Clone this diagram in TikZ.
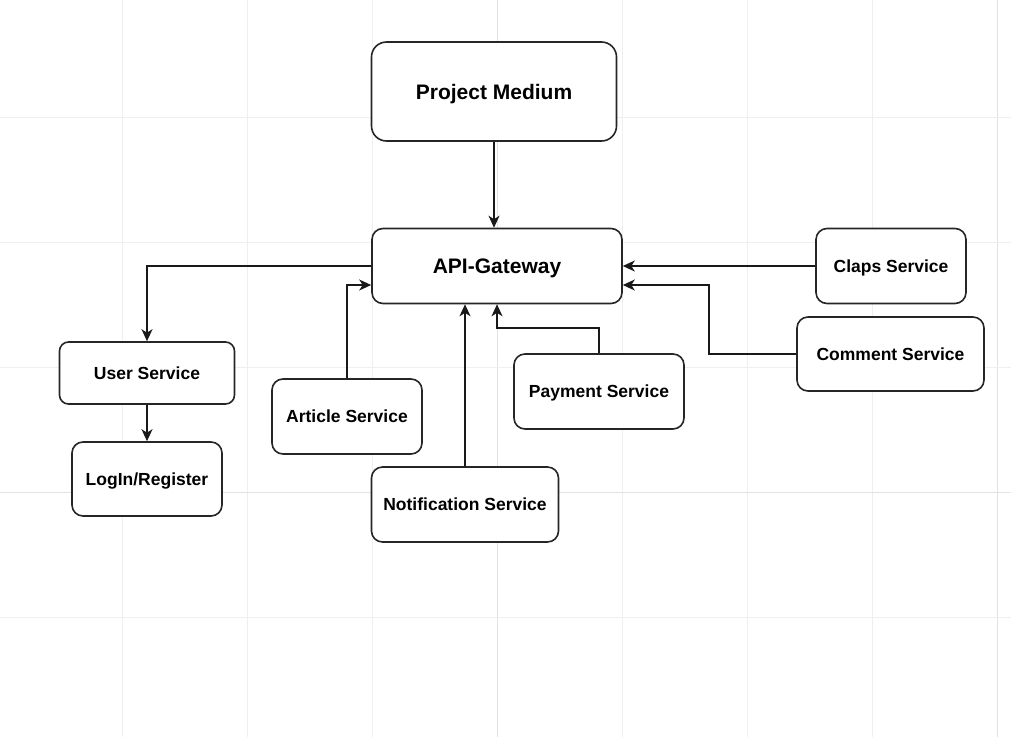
\documentclass[tikz,border=0pt]{standalone}
\usepackage{fontspec}
\setmainfont{Liberation Sans}
\usetikzlibrary{arrows.meta}
\definecolor{gridc}{HTML}{EFEFEF}
\definecolor{gridd}{HTML}{E2E2E2}
\tikzset{
  box/.style={draw=black!85, line width=1.6pt, rounded corners=11pt, fill=white,
    font=\bfseries\fontsize{17.5}{20}\selectfont, inner sep=0pt, align=center,
    text height=12.5pt, text depth=0pt},
  bigbox/.style={box, font=\bfseries\fontsize{21}{24}\selectfont, text height=15pt},
  arr/.style={draw=black!90, line width=1.7pt, -{Stealth[length=12pt,width=11pt,inset=3.5pt]}}
}
\begin{document}
\begin{tikzpicture}[x=1pt,y=-1pt]
\useasboundingbox (0,0) rectangle (1011,737);
\fill[white] (0,0) rectangle (1011,737);
\foreach \x in {122,247,372,622,747,872}{\draw[gridc, line width=1pt] (\x,0) -- (\x,737);}
\foreach \x in {497,997}{\draw[gridd, line width=1pt] (\x,0) -- (\x,737);}
\foreach \y in {117,242,367,617}{\draw[gridc, line width=1pt] (0,\y) -- (1011,\y);}
\draw[gridd, line width=1pt] (0,492) -- (1011,492);

\node[bigbox, rounded corners=15pt, minimum width=245pt, minimum height=99pt] (pm) at (494,91.5) {Project Medium};
\node[bigbox, minimum width=250pt, minimum height=75pt] (api) at (497,266) {API-Gateway};
\node[box, minimum width=150pt, minimum height=75pt] (cl) at (891,266) {Claps Service};
\node[box, minimum width=187pt, minimum height=74pt] (cm) at (890.5,354) {Comment Service};
\node[box, rounded corners=9pt, minimum width=175pt, minimum height=62pt] (us) at (147,373) {User Service};
\node[box, minimum width=150pt, minimum height=75pt] (ar) at (347,416.5) {Article Service};
\node[box, minimum width=170pt, minimum height=75pt] (pay) at (599,391.5) {Payment Service};
\node[box, minimum width=150pt, minimum height=74pt] (lr) at (147,479) {LogIn/Register};
\node[box, minimum width=187pt, minimum height=75pt] (nt) at (465,504.5) {Notification Service};

\draw[arr] (pm.south) -- (pm.south |- api.north);
\draw[arr] (api.west) -| (us.north);
\draw[arr] (us.south) -- (us.south |- lr.north);
\draw[arr] (ar.north) |- ([yshift=-19pt]api.west);
\draw[arr] (nt.north) -- (nt.north |- api.south);
\draw[arr] (pay.north) -- ++(0,-25) -| (api.south);
\draw[arr] (cl.west) -- (api.east);
\draw[arr] (cm.west) -- ++(-87,0) |- ([yshift=-19pt]api.east);
\end{tikzpicture}
\end{document}
